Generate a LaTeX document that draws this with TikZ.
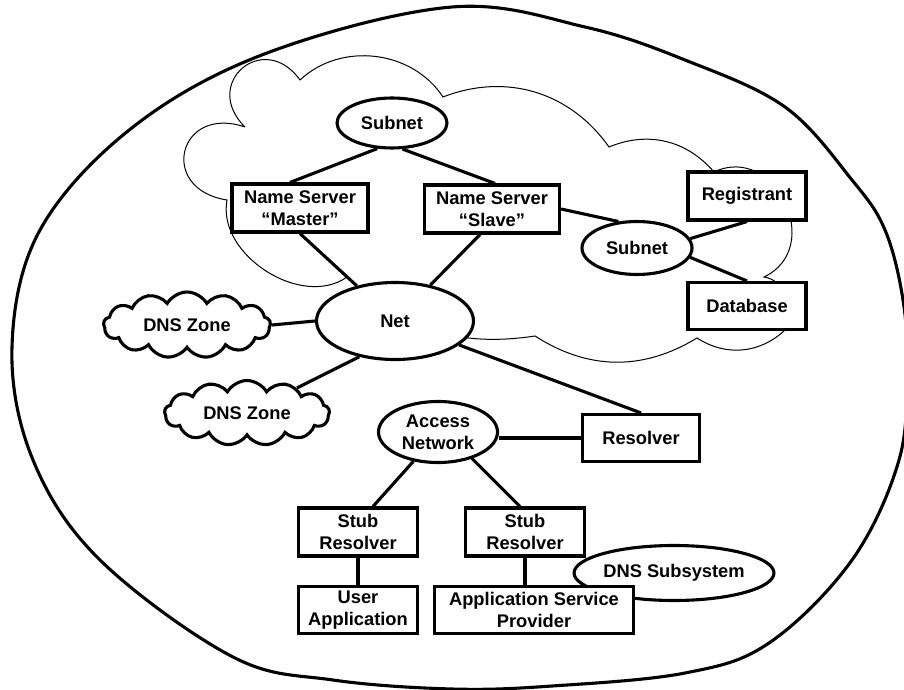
\documentclass[tikz,border=0pt]{standalone}
\usepackage{fontspec}
\setmainfont{Liberation Sans}
\usepackage{tikz}
\usetikzlibrary{arrows,shapes,positioning}
\newcommand{\dnsfont}{\bfseries\fontsize{18.3}{22}\selectfont}
\tikzstyle{link} = [line width=3.1pt, color=black]
\tikzstyle{outline} = [line width=3.1pt, color=black]
\tikzstyle{haze} = [line width=1pt, color=black]
\tikzstyle{unit} = [rectangle, draw=black, fill=white, line width=3.1pt, minimum height=48pt, inner sep=1pt, align=center, font=\dnsfont]
\tikzstyle{segment} = [ellipse, draw=black, fill=white, line width=3.1pt, inner sep=0pt, align=center, font=\dnsfont]
\tikzstyle{zone} = [cloud, cloud puffs=13, cloud puff arc=120, cloud ignores aspect, draw=black, fill=white, line width=3.1pt, minimum width=167pt, minimum height=66pt, inner sep=0pt, font=\dnsfont]

\begin{document}
\begin{tikzpicture}[x=1pt, y=-1pt, node distance=78pt]
\useasboundingbox (0,0) rectangle (904,690);

% the whole system
\draw[outline] plot[smooth cycle, tension=0.6] coordinates {(452,7) (585,27) (685,60) (785,107) (852,180) (885,230) (903,300) (907,370) (899,460) (852,560) (769,643) (685,673) (552,686) (452,689) (333,680) (233,657) (100,560) (33,460) (12,347) (40,230) (133,127) (267,53)};

% internet cloud behind the servers
\draw[haze] (245,127) to[bend left=95, looseness=2.2] (300,80)
  to[bend left=50] (443,97)
  to[bend left=38] (609,147)
  to[bend left=36] (714,172)
  to[bend left=90, looseness=1.5] (764,277)
  to[bend left=60] (785,330)
  to[bend left=38] (697,338)
  to[bend left=32] (535,336)
  to[bend left=26] (347,277)
  to[bend left=68] (227,200)
  to[bend left=95, looseness=2.4] (245,127);

\node (dnssub) [segment, minimum width=178pt, minimum height=55pt] at (674,573) {DNS Subsystem};

\node (subtop) [segment, minimum width=110pt, minimum height=50pt] at (392,123) {Subnet};
\node (master) [unit, minimum width=136pt] at (300,208) {Name Server\\“Master”};
\node (slave) [unit, minimum width=135pt] at (492,209) {Name Server\\“Slave”};
\node (subside) [segment, minimum width=110pt, minimum height=53pt] at (637,248) {Subnet};
\node (registrant) [unit, minimum width=118pt] at (747,196) {Registrant};
\node (database) [unit, minimum width=118pt, minimum height=47pt] at (747,306) {Database};
\node (net) [segment, minimum width=157pt, minimum height=77pt] at (395,321) {Net};
\node (zoneup) [zone] at (187,325) {DNS Zone};
\node (zonedown) [zone, minimum width=165pt, minimum height=65pt] at (247,413) {DNS Zone};
\node (access) [segment, minimum width=119pt, minimum height=61pt] at (438,432) {Access\\Network};
\node (resolver) [unit, minimum width=117pt, minimum height=47pt] at (641,438) {Resolver};
\node (stubleft) [unit, minimum width=119pt] at (358,532) {Stub\\Resolver};
\node (stubright) [unit, minimum width=119pt] at (525,532) {Stub\\Resolver};
\node (userapp) [unit, minimum width=119pt, minimum height=47pt, below of=stubleft] {User\\Application};
\node (asp) [unit, minimum width=199pt, minimum height=47pt] at (534,610) {Application Service\\Provider};

\draw[link] (subtop.240) -- ([xshift=-10pt]master.north);
\draw[link] (subtop.292) -- ([xshift=3pt]slave.north);
\draw[link] (master.south) -- (net);
\draw[link] ([xshift=-12pt]slave.south) -- (net);
\draw[link] (slave.east) -- (subside.125);
\draw[link] (subside.10) -- (registrant.south);
\draw[link] (subside.-10) -- (database.north);
\draw[link] (zoneup.east) -- (net.west);
\draw[link] (zonedown) -- (net.225);
\draw[link] (net) -- (resolver.north);
\draw[link] (resolver.west) -- (resolver.west -| access.east);
\draw[link] (access.230) -- ([xshift=15pt]stubleft.north);
\draw[link] (access.322) -- ([xshift=-5pt]stubright.north);
\draw[link] (stubleft) -- (userapp);
\draw[link] (stubright.south) -- (stubright.south |- asp.north);
\end{tikzpicture}
\end{document}
